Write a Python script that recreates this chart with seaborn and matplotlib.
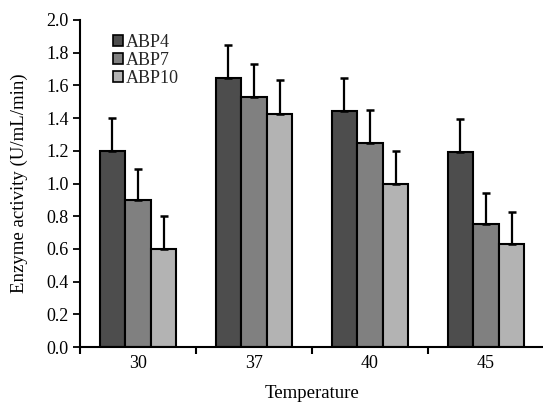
import matplotlib
matplotlib.use("Agg")
import matplotlib.pyplot as plt
import seaborn as sns
import pandas as pd
from matplotlib.patches import Patch

temperatures = ["30", "37", "40", "45"]
strains = ["ABP4", "ABP7", "ABP10"]
abp4 = [1.20, 1.645, 1.445, 1.195]
abp7 = [0.90, 1.53, 1.25, 0.75]
abp10 = [0.60, 1.425, 1.00, 0.63]
abp4_err = [0.20, 0.20, 0.20, 0.20]
abp7_err = [0.19, 0.20, 0.20, 0.19]
abp10_err = [0.20, 0.205, 0.20, 0.195]
colors = ["#4d4d4d", "#808080", "#b3b3b3"]

means = {"ABP4": abp4, "ABP7": abp7, "ABP10": abp10}
errs = {"ABP4": abp4_err, "ABP7": abp7_err, "ABP10": abp10_err}
rows = []
for s in strains:
    for t, m, e in zip(temperatures, means[s], errs[s]):
        rows.append({"Temperature": t, "Strain": s, "Activity": m, "Err": e})
df = pd.DataFrame(rows)

sns.set_theme(style="ticks")
plt.rcParams["font.family"] = ["Liberation Serif", "DejaVu Serif"]

fig = plt.figure(figsize=(5.43, 4.03), dpi=100)
ax = fig.add_axes([80 / 543, (403 - 347) / 403, 464 / 543, 327 / 403])

sns.barplot(data=df, x="Temperature", y="Activity", hue="Strain",
            order=temperatures, hue_order=strains, palette=colors,
            width=0.66, edgecolor="black", linewidth=1.5,
            errorbar=None, legend=False, ax=ax)

# upper error bars placed on each bar
for i, s in enumerate(strains):
    cont = ax.containers[i]
    for patch, (m, e) in zip(cont.patches, zip(means[s], errs[s])):
        xc = patch.get_x() + patch.get_width() / 2
        ax.errorbar([xc], [m], yerr=[[0], [e]], fmt="none", ecolor="black",
                    elinewidth=1.6, capsize=3, capthick=1.8, zorder=3)

ax.set_xlim(-0.5, 3.5)
ax.set_ylim(0, 2.0)
ax.set_yticks([0.0, 0.2, 0.4, 0.6, 0.8, 1.0, 1.2, 1.4, 1.6, 1.8, 2.0])
ax.set_yticklabels([f"{v:.1f}" for v in ax.get_yticks()])
ax.set_xticks(range(len(temperatures)))
ax.set_xticklabels(temperatures)
ax.set_xticks([-0.5, 0.5, 1.5, 2.5], minor=True)
ax.tick_params(axis="x", which="major", length=0, pad=6, labelsize=13, colors="black")
ax.tick_params(axis="x", which="minor", length=5, width=1.5, direction="out", color="black")
ax.tick_params(axis="y", length=5, width=1.3, direction="out", labelsize=13,
               colors="black", pad=3)

for side in ["top", "right"]:
    ax.spines[side].set_visible(False)
for side in ["left", "bottom"]:
    ax.spines[side].set_linewidth(1.5)
    ax.spines[side].set_color("black")

ax.set_xlabel("Temperature", fontsize=13.5, color="black", labelpad=9)
ax.set_ylabel("Enzyme activity (U/mL/min)", fontsize=13.5, color="black", labelpad=13)

handles = [Patch(facecolor=c, edgecolor="black", linewidth=1.2) for c in colors]
ax.legend(handles, strains, loc="upper left", bbox_to_anchor=(0.055, 0.98),
          frameon=False, fontsize=13, handlelength=0.55, handleheight=0.55,
          handletextpad=0.15, labelspacing=0.05, borderaxespad=0)

fig.savefig("out.png", dpi=100)
